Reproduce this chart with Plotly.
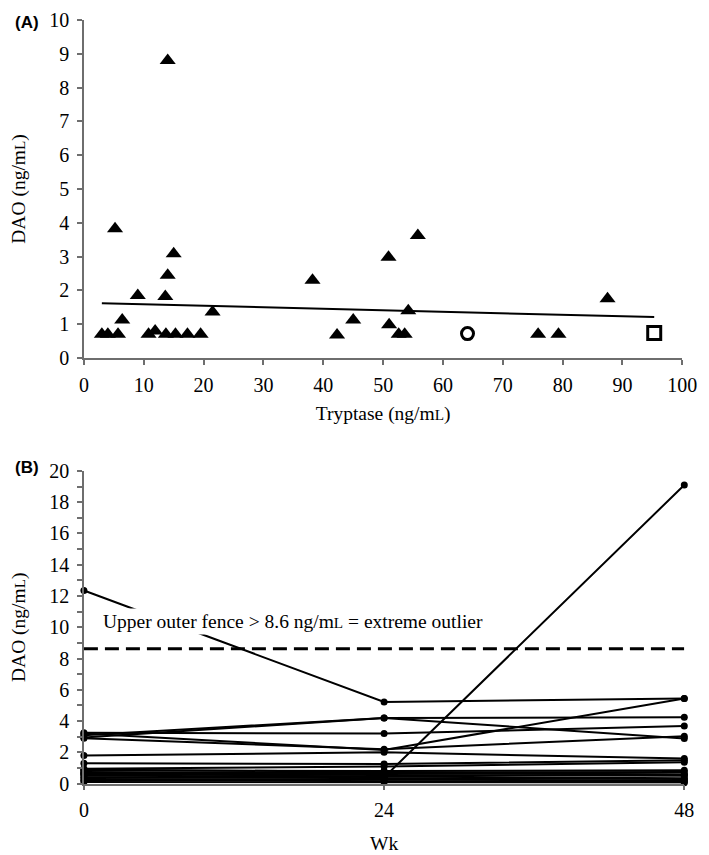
import plotly.graph_objects as go

# ---------------- Panel A data ----------------
tri_x = [3.0, 4.0, 5.7, 10.8, 11.9, 13.7, 15.3, 17.3, 19.5,
         5.2, 6.4, 9.0, 13.6, 14.0, 15.0, 21.5, 14.0,
         38.2, 42.3, 45.0, 50.9, 55.8, 51.0, 54.2, 52.6, 53.6,
         75.9, 79.3, 87.5]
tri_y = [0.7, 0.7, 0.7, 0.7, 0.8, 0.7, 0.7, 0.7, 0.7,
         3.82, 1.12, 1.85, 1.82, 2.45, 3.08, 1.36, 8.8,
         2.3, 0.68, 1.12, 2.98, 3.62, 0.98, 1.4, 0.7, 0.7,
         0.7, 0.7, 1.75]
circle_x = [64.1]
circle_y = [0.72]
square_x = [95.3]
square_y = [0.74]
trend_x = [3.0, 95.3]
trend_y = [1.62, 1.21]
a_xticks = list(range(0, 101, 10))
a_yticks = list(range(0, 11, 1))

# ---------------- Panel B data ----------------
weeks = [0, 24, 48]
patients = [
    [12.35, 5.22, 5.45],
    [2.95, 4.2, 4.24],
    [3.1, 4.2, 2.88],
    [3.25, 3.2, 3.68],
    [3.2, 2.15, 5.45],
    [2.9, 2.2, 3.03],
    [1.8, 2.0, 1.6],
    [1.3, 1.25, 1.5],
    [0.95, 1.1, 1.36],
    [0.7, 0.4, 19.1],
    [0.85, 0.8, 0.86],
    [0.75, 0.65, 0.6],
    [0.6, 0.55, 0.5],
    [0.5, 0.45, 0.35],
    [0.4, 0.35, 0.3],
    [0.3, 0.25, 0.2],
    [0.2, 0.15, 0.12],
    [0.1, 0.1, 0.06],
    [0.65, 0.7, 0.75],
    [0.9, 0.75, 0.55],
]
fence_value = 8.63
b_xticks = [0, 24, 48]
b_yticks = list(range(0, 21, 2))

SERIF = "Liberation Serif"
ML = "ng/m<span style='font-size:0.78em'>L</span>"

# page body has an 8px margin; figure is sized to fit inside the window
OFF = 8
W, H = 709 - OFF, 855 - OFF


def xd(a, b):
    return [(a - OFF) / W, (b - OFF) / W]


def yd(top, bottom):
    return [1 - (bottom - OFF) / H, 1 - (top - OFF) / H]


fig = go.Figure()

# Panel A
fig.add_trace(go.Scatter(x=trend_x, y=trend_y, mode="lines",
                         line=dict(color="black", width=2),
                         xaxis="x", yaxis="y", showlegend=False))
fig.add_trace(go.Scatter(x=tri_x, y=tri_y, mode="markers",
                         marker=dict(symbol="triangle-up", size=14, color="black"),
                         xaxis="x", yaxis="y", showlegend=False, cliponaxis=False))
fig.add_trace(go.Scatter(x=circle_x, y=circle_y, mode="markers",
                         marker=dict(symbol="circle-open", size=12, color="black",
                                     line=dict(width=3, color="black")),
                         xaxis="x", yaxis="y", showlegend=False))
fig.add_trace(go.Scatter(x=square_x, y=square_y, mode="markers",
                         marker=dict(symbol="square-open", size=13, color="black",
                                     line=dict(width=3, color="black")),
                         xaxis="x", yaxis="y", showlegend=False))

# Panel B
fig.add_trace(go.Scatter(x=[weeks[0], weeks[-1]], y=[fence_value, fence_value],
                         mode="lines", line=dict(color="black", width=3, dash="14px,7px"),
                         xaxis="x2", yaxis="y2", showlegend=False))
for p in patients:
    fig.add_trace(go.Scatter(x=weeks, y=p, mode="lines+markers",
                             line=dict(color="black", width=2),
                             marker=dict(symbol="circle", size=7, color="black"),
                             xaxis="x2", yaxis="y2", showlegend=False,
                             cliponaxis=False))

axis_common = dict(showgrid=False, zeroline=False, showline=True,
                   linecolor="#6e6e6e", linewidth=1.5, ticks="outside",
                   tickcolor="#6e6e6e", ticklen=5, tickwidth=1.5,
                   tickfont=dict(family=SERIF, size=20, color="black"))
title_font = dict(family=SERIF, size=19.5, color="black")

fig.update_layout(
    width=W, height=H,
    margin=dict(l=0, r=0, t=0, b=0),
    paper_bgcolor="white", plot_bgcolor="white",
    xaxis=dict(domain=xd(81, 697), range=[0, 100], tickvals=a_xticks,
               anchor="y", ticklabelstandoff=3,
               title=dict(text="Tryptase (" + ML + ")", standoff=12, font=title_font),
               **axis_common),
    yaxis=dict(domain=yd(9, 356), range=[0, 10], tickvals=a_yticks,
               anchor="x", ticklabelstandoff=4,
               title=dict(text="DAO (" + ML + ")", standoff=24, font=title_font),
               **axis_common),
    xaxis2=dict(domain=xd(81, 699), range=[0, 48], tickvals=b_xticks,
                anchor="y2", ticklabelstandoff=3,
                title=dict(text="Wk", standoff=16, font=title_font),
                **axis_common),
    yaxis2=dict(domain=yd(472, 793), range=[0, 20], tickvals=b_yticks,
                anchor="x2", ticklabelstandoff=4,
                minor=dict(dtick=1, ticks="outside", ticklen=5, tickcolor="#6e6e6e",
                           tickwidth=1.5),
                title=dict(text="DAO (" + ML + ")", standoff=24, font=title_font),
                **axis_common),
    annotations=[
        dict(text="<b>(A)</b>", xref="paper", yref="paper", x=0.0,
             y=1 - (12 - OFF) / H, xanchor="left", yanchor="middle", showarrow=False,
             font=dict(family="Liberation Sans", size=17, color="black")),
        dict(text="<b>(B)</b>", xref="paper", yref="paper", x=0.0,
             y=1 - (468 - OFF) / H, xanchor="left", yanchor="middle", showarrow=False,
             font=dict(family="Liberation Sans", size=17, color="black")),
        dict(text="Upper outer fence > 8.6 " + ML + " = extreme outlier",
             xref="x2", yref="y2", x=1.3, y=10.4, xanchor="left", yanchor="middle",
             showarrow=False, bgcolor="white", borderpad=2,
             font=dict(family=SERIF, size=19.5, color="black")),
    ],
)

fig.write_html("out.html")
